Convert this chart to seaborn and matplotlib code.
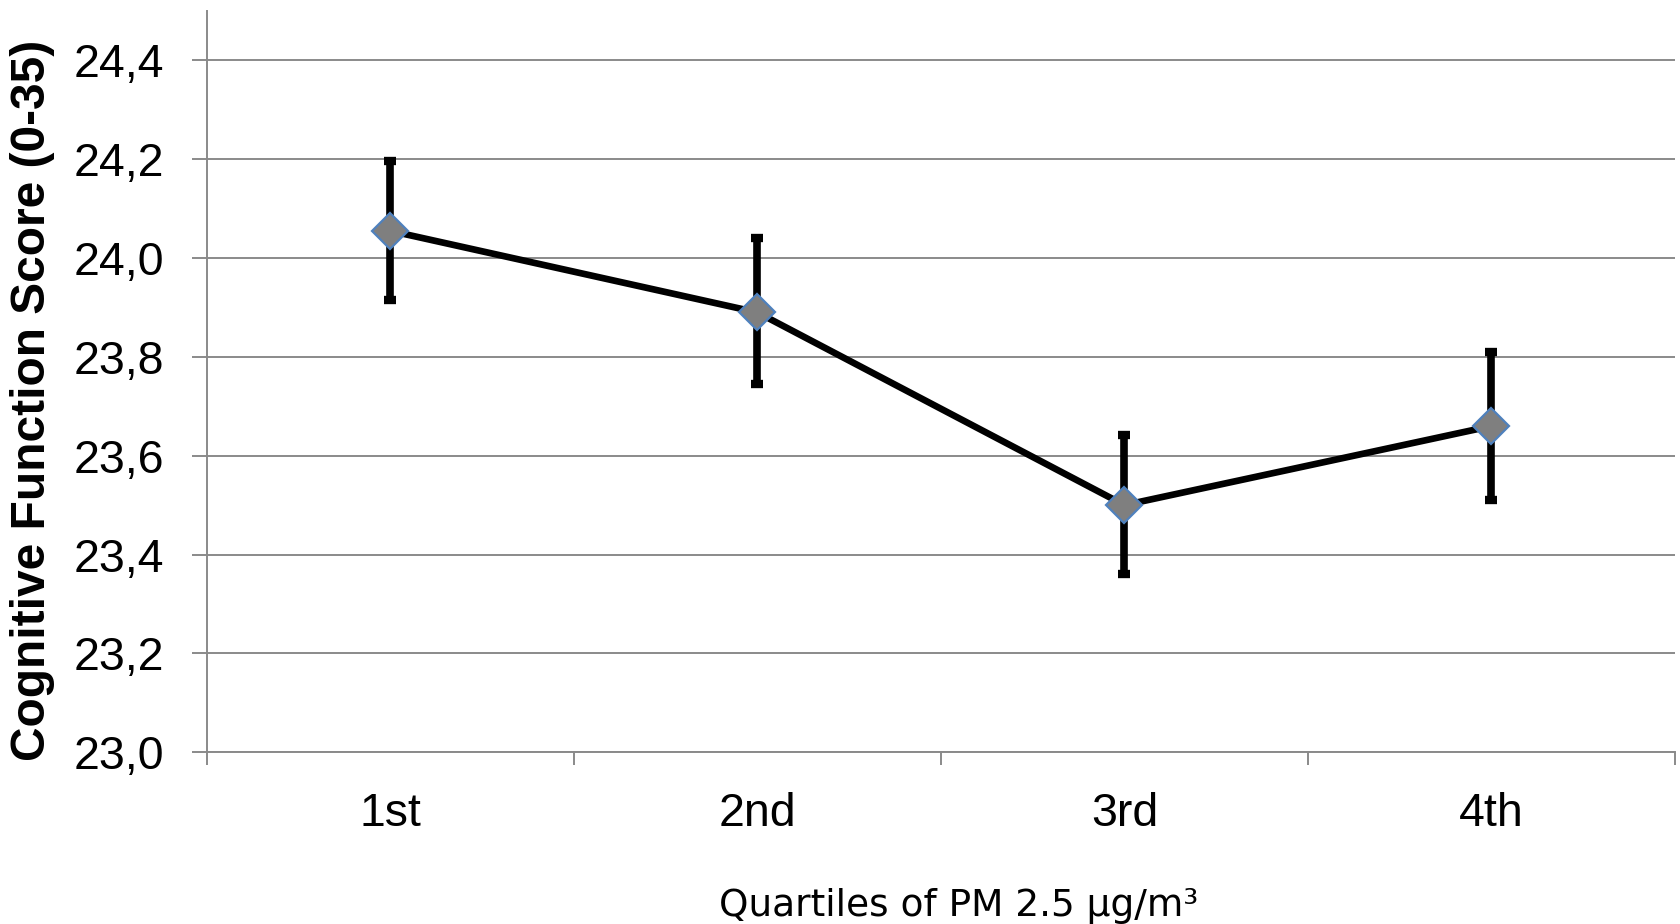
import matplotlib
matplotlib.use("Agg")
import matplotlib.pyplot as plt
import numpy as np
import pandas as pd
import seaborn as sns

# Values
quartiles = ["1st", "2nd", "3rd", "4th"]
score_mean = [24.055, 23.89, 23.50, 23.66]
score_low = [23.915, 23.745, 23.36, 23.51]
score_high = [24.197, 24.04, 23.642, 23.81]
y_ticks = [23.0, 23.2, 23.4, 23.6, 23.8, 24.0, 24.2, 24.4]

df = pd.DataFrame({"quartile": quartiles, "score": score_mean})
df["pos"] = np.arange(len(quartiles))

sns.set_theme(style="white")
plt.rcParams["font.family"] = ["Liberation Sans", "DejaVu Sans"]

fig = plt.figure(figsize=(16.8, 9.24), dpi=100)
ax = fig.add_axes([0.1232, 0.186, 0.8738, 0.802])

# error bars first so the line and markers sit on top
yerr = [np.array(score_mean) - np.array(score_low),
        np.array(score_high) - np.array(score_mean)]
ax.errorbar(df["pos"], df["score"], yerr=yerr, fmt="none", ecolor="black",
            elinewidth=5.5, capsize=4.3, capthick=6, zorder=2)

sns.lineplot(data=df, x="pos", y="score", color="black", linewidth=4.8,
             marker="D", markersize=18, markerfacecolor="#7f7f7f",
             markeredgecolor="#4f81bd", markeredgewidth=1.6, ax=ax, zorder=3)

ax.set_xlim(-0.5, 3.5)
ax.set_ylim(23.0, 24.5)
ax.set_yticks(y_ticks)
ax.set_yticklabels([f"{v:.1f}".replace(".", ",") for v in y_ticks], fontsize=33.5)
ax.set_xticks(df["pos"])
ax.set_xticklabels(quartiles, fontsize=33.5)
ax.set_xticks(np.arange(-0.5, 3.6, 1.0), minor=True)

ax.grid(axis="y", color="#8a8a8a", linewidth=1.4)
ax.grid(axis="x", visible=False)
ax.set_axisbelow(True)

for side in ["top", "right"]:
    ax.spines[side].set_visible(False)
for side in ["left", "bottom"]:
    ax.spines[side].set_color("#8a8a8a")
    ax.spines[side].set_linewidth(1.4)

ax.tick_params(axis="y", which="major", left=True, length=11, width=1.4,
               color="#8a8a8a", pad=20, labelcolor="black")
ax.tick_params(axis="x", which="major", bottom=False, length=0, pad=29,
               labelcolor="black")
ax.tick_params(axis="x", which="minor", bottom=True, length=9, width=1.4,
               color="#8a8a8a")

ax.set_xlabel("Quartiles of PM 2.5 µg/m³", fontsize=27, color="black",
              family=["DejaVu Sans"], va="center")
ax.xaxis.set_label_coords(0.512, -0.207)
ax.set_ylabel("Cognitive Function Score (0-35)", fontsize=34.5, fontweight="bold",
              color="black")
ax.yaxis.set_label_coords(-0.1035, 0.475)

fig.savefig("out.png", dpi=100)
